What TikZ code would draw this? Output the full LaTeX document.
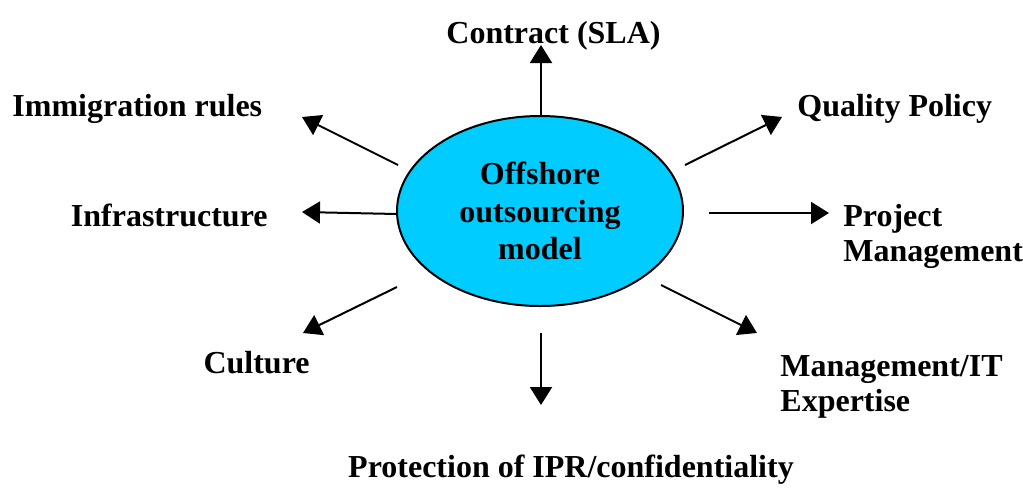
\documentclass[tikz,border=0pt]{standalone}
\usepackage{fontspec}
\setmainfont{Liberation Serif}
\usepackage{tikz}
\usetikzlibrary{shapes.geometric}
\usetikzlibrary{arrows.meta}
\tikzset{
core/.style={
  ellipse,
  draw=black,
  line width=1pt,
  fill=coreblue,
  minimum width=143pt,
  minimum height=95pt,
  inner sep=0pt,
  align=center,
  font=\bfseries\fontsize{16}{18.75}\selectfont
},
factor/.style={
  inner sep=0pt,
  align=left,
  font=\bfseries\fontsize{16}{17.5}\selectfont
},
link/.style={
  line width=1pt,
  -{Triangle[length=9pt,width=11pt]}
},
}
\definecolor{coreblue}{RGB}{0,204,255}

\begin{document}
\begin{tikzpicture}[x=0.5pt,y=-0.5pt]
\useasboundingbox (0,0) rectangle (1023,489);
\node (model) [core] at (540,211) {Offshore\\outsourcing\\model};
% the factors (base of a two-line label is its last line)
\node (sla) [factor,anchor=base] at (553.5,43) {Contract (SLA)};
\node (immig) [factor,anchor=base west] at (12,116) {Immigration rules};
\node (quality) [factor,anchor=base west] at (797,116) {Quality Policy};
\node (infra) [factor,anchor=base east] at (268,226) {Infrastructure};
\node (pm) [factor,anchor=base west] at (843,261) {Project\\Management};
\node (culture) [factor,anchor=base east] at (310,373) {Culture};
\node (mgmt) [factor,anchor=base west] at (780,411) {Management/IT\\Expertise};
\node (ipr) [factor,anchor=base] at (571,477) {Protection of IPR/confidentiality};
% the arrow ends
\coordinate (sla-tip) at (541,45);
\coordinate (immig-from) at (398,165);
\coordinate (immig-tip) at (302,117);
\coordinate (quality-from) at (685,165);
\coordinate (quality-tip) at (782,117);
\coordinate (infra-from) at (397,214);
\coordinate (infra-tip) at (302,212);
\coordinate (pm-from) at (709,213);
\coordinate (pm-tip) at (829,213);
\coordinate (culture-from) at (397,287);
\coordinate (culture-tip) at (303,333);
\coordinate (mgmt-from) at (661,285);
\coordinate (mgmt-tip) at (757,333);
\coordinate (ipr-from) at (541,333);
\coordinate (ipr-tip) at (541,405);
% the arrows
\draw[link] (model.north -| sla-tip) -- (sla-tip);
\draw[link] (immig-from) -- (immig-tip);
\draw[link] (quality-from) -- (quality-tip);
\draw[link] (infra-from) -- (infra-tip);
\draw[link] (pm-from) -- (pm-tip);
\draw[link] (culture-from) -- (culture-tip);
\draw[link] (mgmt-from) -- (mgmt-tip);
\draw[link] (ipr-from) -- (ipr-tip);
\end{tikzpicture}
\end{document}
